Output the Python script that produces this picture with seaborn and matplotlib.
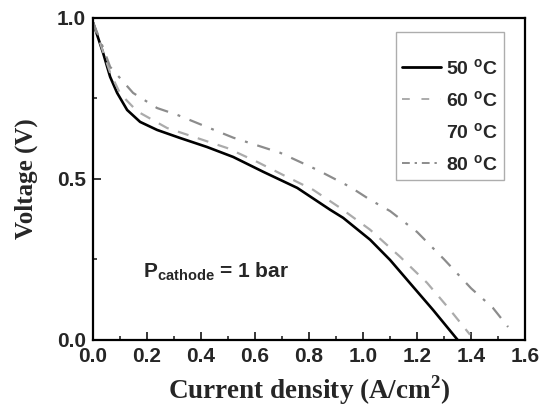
import matplotlib
matplotlib.use("Agg")
import matplotlib.pyplot as plt
import seaborn as sns
from matplotlib.lines import Line2D
from matplotlib.ticker import MultipleLocator

sns.set_theme(style="white")
plt.rcParams['font.family'] = ['Liberation Sans', 'DejaVu Sans']
plt.rcParams['mathtext.fontset'] = 'custom'
plt.rcParams['mathtext.rm'] = 'Liberation Sans:bold'
plt.rcParams['mathtext.it'] = 'Liberation Sans:bold'

# Polarisation curves (current density A/cm2, voltage V)
j_50 = [0.0, 0.037, 0.063, 0.089, 0.126, 0.174, 0.237, 0.322, 0.422, 0.519, 0.63,
        0.756, 0.878, 0.926, 1.026, 1.10, 1.185, 1.259, 1.35]
v_50 = [0.985, 0.891, 0.817, 0.767, 0.714, 0.677, 0.652, 0.627, 0.599, 0.568, 0.522,
        0.472, 0.404, 0.379, 0.311, 0.248, 0.165, 0.093, 0.0]

j_60 = [0.0, 0.026, 0.063, 0.10, 0.163, 0.274, 0.385, 0.496, 0.607, 0.704, 0.815,
        0.915, 1.026, 1.137, 1.237, 1.322, 1.396]
v_60 = [0.985, 0.922, 0.83, 0.765, 0.71, 0.658, 0.627, 0.596, 0.553, 0.512, 0.466,
        0.41, 0.342, 0.258, 0.177, 0.093, 0.016]

j_80 = [0.0, 0.026, 0.063, 0.148, 0.237, 0.311, 0.422, 0.519, 0.693, 0.83, 0.952,
        1.026, 1.10, 1.20, 1.30, 1.40, 1.48, 1.537]
v_80 = [0.985, 0.932, 0.848, 0.767, 0.72, 0.699, 0.661, 0.628, 0.581, 0.528, 0.475,
        0.435, 0.40, 0.335, 0.25, 0.16, 0.10, 0.04]

labels = [r'50 $^{\mathregular{o}}$C', r'60 $^{\mathregular{o}}$C',
          r'70 $^{\mathregular{o}}$C', r'80 $^{\mathregular{o}}$C']

dash_60 = (0, (5, 4.4))
dash_80 = (0, (6, 4.5, 1.3, 4.5))

fig = plt.figure(figsize=(5.51, 4.07), dpi=100)
ax = fig.add_axes([0.169, 0.165, 0.784, 0.791])

sns.lineplot(x=j_50, y=v_50, ax=ax, color='black', lw=1.9, sort=False)
sns.lineplot(x=j_60, y=v_60, ax=ax, color='#ababab', lw=1.6, sort=False,
             linestyle=dash_60)
sns.lineplot(x=j_80, y=v_80, ax=ax, color='#8c8c8c', lw=1.6, sort=False,
             linestyle=dash_80)

ax.set_xlim(0, 1.6)
ax.set_ylim(0, 1.0)
ax.xaxis.set_major_locator(MultipleLocator(0.2))
ax.xaxis.set_minor_locator(MultipleLocator(0.1))
ax.yaxis.set_major_locator(MultipleLocator(0.5))
ax.yaxis.set_minor_locator(MultipleLocator(0.25))
ax.tick_params(which='both', direction='in', top=False, right=False,
               bottom=True, left=True)
ax.tick_params(which='major', length=5.5, width=1.3, labelsize=15, pad=5)
ax.tick_params(which='minor', length=3, width=1.2)
for lab in ax.get_xticklabels() + ax.get_yticklabels():
    lab.set_fontweight('bold')
for s in ax.spines.values():
    s.set_color('black')
    s.set_linewidth(1.6)

ax.set_xlabel(r'Current density (A/cm$^{\mathregular{2}}$)',
              family='Liberation Serif', fontweight='bold', fontsize=19.5, labelpad=5)
ax.set_ylabel('Voltage (V)', family='Liberation Serif', fontweight='bold',
              fontsize=18, labelpad=14)

handles = [
    Line2D([], [], color='black', lw=2.0),
    Line2D([], [], color='#ababab', lw=1.4, linestyle=(0, (4, 6))),
    Line2D([], [], color='white', lw=1.4),
    Line2D([], [], color='#8c8c8c', lw=1.4, linestyle=(0, (4, 2.5, 1.2, 2.5))),
]
leg = ax.legend(handles, labels, loc='upper left', bbox_to_anchor=(0.7, 0.955),
                fontsize=14, frameon=True, fancybox=False, handlelength=2.0,
                handletextpad=0.3, labelspacing=0.62, borderpad=0.32,
                borderaxespad=0, title=' ', title_fontsize=6)
leg.get_frame().set_edgecolor('#999999')
leg.get_frame().set_linewidth(1.0)
for t in leg.get_texts():
    t.set_fontweight('bold')

ax.text(0.185, 0.193, r'P$_{\mathregular{cathode}}$ = 1 bar', fontsize=15,
        fontweight='bold', ha='left', va='baseline')

fig.savefig('out.png', dpi=100)
